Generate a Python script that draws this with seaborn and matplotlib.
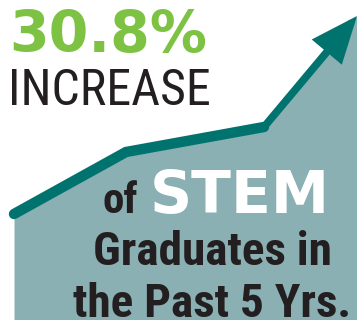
import matplotlib
matplotlib.use('Agg')
import matplotlib.pyplot as plt
import seaborn as sns
import pandas as pd

# --- data: stylised trend line (x, height from bottom, in px of a 357x320 canvas) ---
trend_x = [14, 126, 264, 357]
trend_y = [106, 168, 193, 304]
headline = '30.8%'
subhead = 'INCREASE'
caption_lines = ['of', 'STEM', 'Graduates in', 'the Past 5 Yrs.']

GREEN = '#7dc243'
TEAL = '#00736f'
FILL = '#8ab0b4'
INK = '#231f20'
NARROW = ['Roboto Condensed', 'Liberation Sans']

sns.set_style('white')
plt.rcParams['font.family'] = ['DejaVu Sans']

fig = plt.figure(figsize=(3.57, 3.20), dpi=100)
ax = fig.add_axes([0, 0, 1, 1])
ax.set_xlim(0, 357)
ax.set_ylim(0, 320)
ax.axis('off')

df = pd.DataFrame({'x': trend_x, 'y': trend_y})

# shaded area under the trend
ax.fill_between(df['x'], df['y'], 0, color=FILL, lw=0, zorder=1)

# line up to the last bend, then arrow to the tip
sns.lineplot(data=df.iloc[:3], x='x', y='y', color=TEAL, lw=7.5, ax=ax,
             solid_capstyle='round', solid_joinstyle='miter', zorder=3)
ax.annotate('', xy=(df['x'].iloc[3], df['y'].iloc[3]),
            xytext=(df['x'].iloc[2], df['y'].iloc[2]),
            arrowprops=dict(arrowstyle='-|>,head_length=24,head_width=10',
                            mutation_scale=1, color=TEAL, lw=5.5,
                            shrinkA=0, shrinkB=0, joinstyle='miter'),
            annotation_clip=False, zorder=4)

# headline texts
ax.text(9, 268, headline, color=GREEN, fontsize=41, fontweight='bold',
        family=['DejaVu Sans'], ha='left', va='baseline')
ax.text(8, 215, subhead, color=INK, fontsize=36,
        family=NARROW, ha='left', va='baseline')

ax.text(102, 107, caption_lines[0], color=INK, fontsize=31, fontweight='bold',
        family=NARROW, ha='left', va='baseline')
ax.text(150, 107, caption_lines[1], color='white', fontsize=42, fontweight='bold',
        family=['DejaVu Sans'], ha='left', va='baseline')
ax.text(212, 55, caption_lines[2], color=INK, fontsize=34, fontweight='bold',
        family=NARROW, ha='center', va='baseline')
ax.text(212, 3, caption_lines[3], color=INK, fontsize=34, fontweight='bold',
        family=NARROW, ha='center', va='baseline')

fig.savefig('out.png', dpi=100)
